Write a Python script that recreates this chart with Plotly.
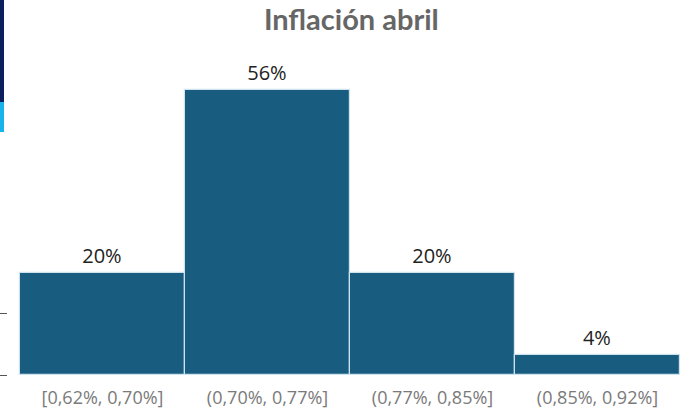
import plotly.graph_objects as go

categories = ["[0,62%, 0,70%]", "(0,70%, 0,77%]", "(0,77%, 0,85%]", "(0,85%, 0,92%]"]
values = [20, 56, 20, 4]
labels = ["20%", "56%", "20%", "4%"]
title = "Inflación abril"

W, H = 693, 414
L, R, T, B = 8, 13, 40, 39
plot_w = W - L - R
plot_h = H - T - B
px_per_unit = 5.09
ymax = plot_h / px_per_unit
bar_px = 165
xmin = -0.5 - 12 / bar_px
xmax = xmin + plot_w / bar_px

fig = go.Figure(go.Bar(
    x=list(range(len(categories))),
    y=values,
    text=labels,
    textposition="outside",
    textfont=dict(size=20, color="#222222", family="Open Sans"),
    marker=dict(color="#185d7f", line=dict(color="#cfe3ee", width=1.2)),
    cliponaxis=False,
))

fig.update_layout(
    width=W, height=H,
    margin=dict(l=L, r=R, t=T, b=B, autoexpand=False),
    paper_bgcolor="white", plot_bgcolor="white",
    bargap=0,
    showlegend=False,
    title=dict(text="<b>" + title + "</b>", x=0.507, xanchor="center", y=0.952, yanchor="middle",
               font=dict(size=29, color="#666666", family="Lato")),
    xaxis=dict(range=[xmin, xmax], tickvals=list(range(len(categories))), ticktext=categories,
               showgrid=False, zeroline=False, showline=False, ticks="", automargin=False,
               ticklabelstandoff=10,
               tickfont=dict(size=18, color="#7a7a7a", family="Open Sans")),
    yaxis=dict(range=[0, ymax], tickvals=[0, 12], showticklabels=False, ticks="outside",
               ticklen=8, tickcolor="#555555", tickwidth=1, showgrid=False, zeroline=False,
               showline=False, automargin=False),
    shapes=[
        dict(type="rect", xref="paper", yref="paper", x0=-L / plot_w, x1=(4 - L) / plot_w,
             y0=(plot_h + T - 102) / plot_h, y1=(plot_h + T) / plot_h,
             fillcolor="#0b1f5c", line=dict(width=0)),
        dict(type="rect", xref="paper", yref="paper", x0=-L / plot_w, x1=(4 - L) / plot_w,
             y0=(plot_h + T - 132) / plot_h, y1=(plot_h + T - 102) / plot_h,
             fillcolor="#16b4ea", line=dict(width=0)),
    ],
)

fig.write_html("out.html", config={"displayModeBar": False},
               post_script="document.body.style.margin='0';document.body.style.overflow='hidden';")
